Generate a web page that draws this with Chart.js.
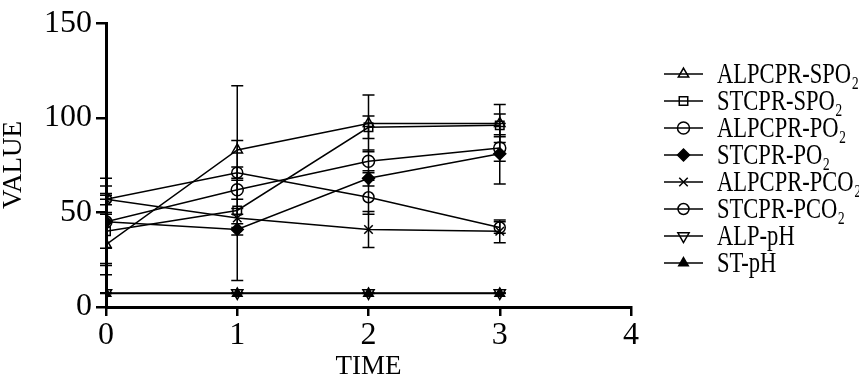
<!DOCTYPE html>
<html>
<head>
<meta charset="utf-8">
<script src="https://cdn.jsdelivr.net/npm/chart.js@4/dist/chart.umd.min.js"></script>
<style>
html,body{margin:0;padding:0;background:#fff;}
#c{display:block;}
</style>
</head>
<body>
<canvas id="c" width="859" height="380"></canvas>
<script>
// ---- data ----
const times = [0, 1, 2, 3];
const xTicks = [0, 1, 2, 3, 4];
const yTicks = [0, 50, 100, 150];

const labels = ['ALPCPR-SPO₂', 'STCPR-SPO₂', 'ALPCPR-PO₂', 'STCPR-PO₂', 'ALPCPR-PCO₂', 'STCPR-PCO₂', 'ALP-pH', 'ST-pH'];

const alpSpo2 = [33, 83, 97, 97];
const alpSpo2Err = [16, 34, 15, 10];
const stSpo2 = [40, 51, 95, 96];
const stSpo2Err = [17, 37, 6, 6];
const alpPo2 = [45, 62, 77, 84];
const alpPo2Err = [14, 5, 6, 7];
const stPo2 = [45, 41, 68, 81];
const stPo2Err = [23, 3, 4, 16];
const alpPco2 = [57, 47, 41, 40];
const alpPco2Err = [7, 5, 9.5, 6];
const stPco2 = [57, 71, 58, 42];
const stPco2Err = [3, 3, 9, 3];
const alpPh = [7.4, 7.4, 7.4, 7.4];
const alpPhErr = [0.1, 0.1, 0.1, 0.1];
const stPh = [7.2, 7.2, 7.2, 7.2];
const stPhErr = [0.1, 0.1, 0.1, 0.1];

const seriesValues = [alpSpo2, stSpo2, alpPo2, stPo2, alpPco2, stPco2, alpPh, stPh];
const seriesErrors = [alpSpo2Err, stSpo2Err, alpPo2Err, stPo2Err, alpPco2Err, stPco2Err, alpPhErr, stPhErr];

// ---- styles ----
const markers = [
  {style: 'triangle', fill: 'rgba(0,0,0,0)', rot: 0, r: 6},
  {style: 'rect', fill: 'rgba(0,0,0,0)', rot: 0, r: 6},
  {style: 'circle', fill: 'rgba(0,0,0,0)', rot: 0, r: 6},
  {style: 'rectRot', fill: '#000', rot: 0, r: 6},
  {style: 'crossRot', fill: 'rgba(0,0,0,0)', rot: 0, r: 6},
  {style: 'circle', fill: 'rgba(0,0,0,0)', rot: 0, r: 5.5},
  {style: 'triangle', fill: 'rgba(0,0,0,0)', rot: 180, r: 6.5},
  {style: 'triangle', fill: '#000', rot: 0, r: 5.5}
];

const SERIF = '"Liberation Serif", "DejaVu Serif", serif';

const datasets = labels.map((lab, k) => ({
  label: lab,
  data: times.map((t, i) => ({x: t, y: seriesValues[k][i]})),
  errors: seriesErrors[k],
  borderColor: '#000',
  borderWidth: 1.5,
  tension: 0,
  fill: false,
  pointStyle: markers[k].style,
  pointRotation: markers[k].rot,
  pointRadius: markers[k].r,
  pointHoverRadius: markers[k].r,
  pointBorderWidth: 1.5,
  pointBorderColor: '#000',
  pointBackgroundColor: markers[k].fill
}));

// error bars drawn through the chart's scales
const errorBars = {
  id: 'errorBars',
  beforeDatasetsDraw(chart) {
    const {ctx, scales: {x, y}} = chart;
    ctx.save();
    ctx.strokeStyle = '#000';
    ctx.lineWidth = 1.5;
    chart.data.datasets.forEach(ds => {
      ds.data.forEach((p, i) => {
        const e = ds.errors[i];
        if (!e) return;
        const px = x.getPixelForValue(p.x);
        const yt = y.getPixelForValue(p.y + e);
        const yb = y.getPixelForValue(p.y - e);
        const cw = 6;
        ctx.beginPath();
        ctx.moveTo(px, yt); ctx.lineTo(px, yb);
        ctx.moveTo(px - cw, yt); ctx.lineTo(px + cw, yt);
        ctx.moveTo(px - cw, yb); ctx.lineTo(px + cw, yb);
        ctx.stroke();
      });
    });
    ctx.restore();
  }
};

// legend: line sample with marker, then label
const lineLegend = {
  id: 'lineLegend',
  afterDraw(chart) {
    const {ctx} = chart;
    const x0 = 664, x1 = 703, xm = 683.5, tx = 717, top = 74, step = 27;
    ctx.save();
    ctx.font = '30px ' + SERIF;
    const sx = 142 / ctx.measureText(labels[0]).width;
    chart.data.datasets.forEach((ds, i) => {
      const yy = top + i * step;
      ctx.strokeStyle = '#000';
      ctx.lineWidth = 1.5;
      ctx.beginPath(); ctx.moveTo(x0, yy); ctx.lineTo(x1, yy); ctx.stroke();
      ctx.fillStyle = ds.pointBackgroundColor;
      Chart.helpers.drawPoint(ctx, {
        pointStyle: ds.pointStyle, rotation: ds.pointRotation,
        radius: ds.pointRadius, borderWidth: 1.5
      }, xm, yy);
      ctx.fillStyle = '#000';
      ctx.textBaseline = 'middle';
      ctx.textAlign = 'left';
      ctx.save();
      ctx.translate(tx, yy + 1);
      ctx.scale(sx, 1);
      ctx.fillText(ds.label, 0, 0);
      ctx.restore();
    });
    ctx.restore();
  }
};

new Chart(document.getElementById('c'), {
  type: 'line',
  data: {datasets},
  plugins: [errorBars, lineLegend],
  options: {
    responsive: false,
    animation: false,
    devicePixelRatio: 1,
    layout: {padding: {left: 0, top: 18, right: 228, bottom: 0}},
    plugins: {legend: {display: false}, tooltip: {enabled: false}},
    scales: {
      x: {
        type: 'linear', min: 0, max: 4,
        afterFit(s) { s.height = 73; },
        afterBuildTicks(s) { s.ticks = xTicks.map(v => ({value: v})); },
        grid: {display: true, drawOnChartArea: false, drawTicks: true, tickLength: 9, color: '#000', lineWidth: 2.5},
        border: {display: true, color: '#000', width: 3},
        ticks: {color: '#000', padding: 0, font: {family: SERIF, size: 32}, maxRotation: 0},
        title: {display: true, text: 'TIME', color: '#000', font: {family: SERIF, size: 27, lineHeight: 1}, padding: {top: 0, bottom: 0}}
      },
      y: {
        type: 'linear', min: 0, max: 150,
        afterFit(s) { s.width = 106; },
        afterBuildTicks(s) { s.ticks = yTicks.map(v => ({value: v})); },
        grid: {display: true, drawOnChartArea: false, drawTicks: true, tickLength: 10, color: '#000', lineWidth: 2.5},
        border: {display: true, color: '#000', width: 3},
        ticks: {color: '#000', padding: 4, font: {family: SERIF, size: 32}},
        title: {display: true, text: 'VALUE', color: '#000', font: {family: SERIF, size: 27, lineHeight: 1}, padding: {top: 0, bottom: 0}}
      }
    }
  }
});
</script>
</body>
</html>
